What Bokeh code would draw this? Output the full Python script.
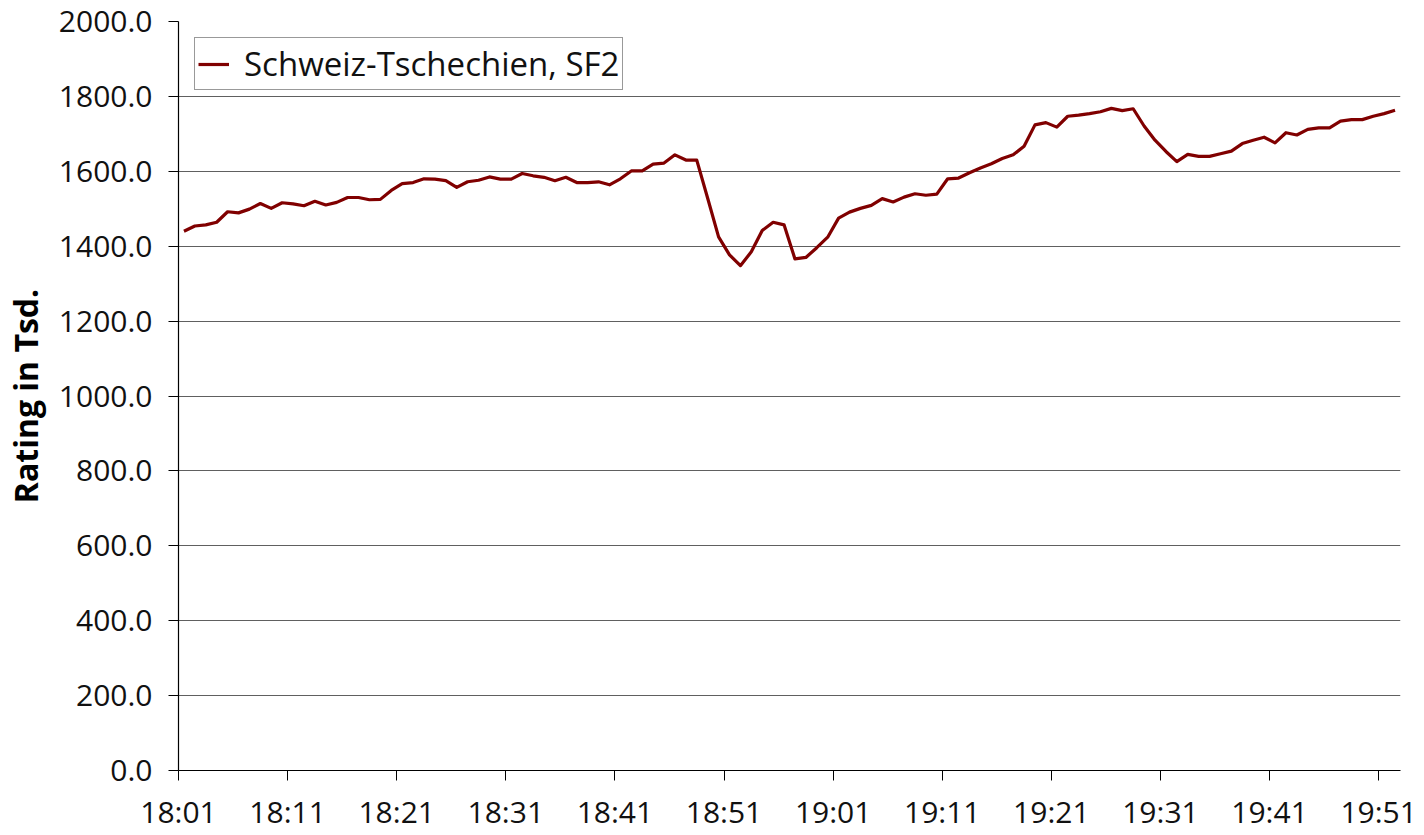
from bokeh.plotting import figure
from bokeh.models import Range1d, FixedTicker, NumeralTickFormatter, Legend, LegendItem, ColumnDataSource
from bokeh.embed import file_html
from bokeh.resources import INLINE

# --- data -------------------------------------------------------------
start_hour, start_min = 18, 1
ratings = [
    1440, 1454, 1457, 1464, 1492, 1489, 1499, 1514, 1501, 1516,
    1513, 1508, 1520, 1510, 1517, 1530, 1530, 1524, 1525, 1549,
    1567, 1570, 1580, 1579, 1575, 1557, 1572, 1576, 1585, 1579,
    1579, 1594, 1588, 1584, 1575, 1584, 1570, 1570, 1572, 1564,
    1580, 1601, 1601, 1619, 1622, 1644, 1630, 1630, 1528, 1425,
    1377, 1348, 1385, 1442, 1464, 1457, 1366, 1370, 1396, 1424,
    1475, 1491, 1501, 1509, 1527, 1518, 1531, 1540, 1536, 1539,
    1580, 1582, 1596, 1609, 1620, 1634, 1644, 1667, 1724, 1730,
    1718, 1747, 1750, 1754, 1759, 1768, 1762, 1767, 1721, 1683,
    1653, 1626, 1645, 1640, 1640, 1647, 1654, 1674, 1683, 1691,
    1676, 1703, 1697, 1712, 1716, 1716, 1734, 1738, 1738, 1747,
    1754, 1763,
]
times = []
for k in range(len(ratings)):
    m = start_hour * 60 + start_min + k
    times.append(f"{m // 60}:{m % 60:02d}")
label_every = 10
series_name = "Schweiz-Tschechien, SF2"
y_title = "Rating in Tsd."

# --- figure -----------------------------------------------------------
n = len(ratings)
xs = [k + 0.5 for k in range(n)]
src = ColumnDataSource(dict(x=xs, y=ratings, t=times))

p = figure(width=1418, height=834, output_backend="svg", toolbar_location=None,
           x_range=Range1d(0, n), y_range=Range1d(0, 2000),
           min_border_left=177, min_border_right=18, min_border_top=21, min_border_bottom=40)
p.outline_line_color = None
p.background_fill_color = "white"
p.border_fill_color = "white"

r = p.line("x", "y", source=src, line_color="#800000", line_width=3.2, line_join="round")

tick_pos = list(range(0, n, label_every))
p.xaxis.ticker = FixedTicker(ticks=tick_pos)
p.xaxis.major_label_overrides = {t: times[t] for t in tick_pos}
p.yaxis.ticker = FixedTicker(ticks=list(range(0, 2001, 200)))
p.yaxis.formatter = NumeralTickFormatter(format="0.0")

for ax in (p.xaxis[0], p.yaxis[0]):
    ax.axis_line_color = "black"
    ax.axis_line_width = 1.2
    ax.major_tick_line_color = "black"
    ax.major_tick_in = 0
    ax.major_tick_out = 10
    ax.minor_tick_line_color = None
    ax.major_label_text_font = "Open Sans"
    ax.major_label_text_font_size = "30px"
    ax.major_label_text_color = "#111111"

p.xaxis.major_label_standoff = 10
p.yaxis.major_label_standoff = 16
p.yaxis.axis_label = y_title
p.yaxis.axis_label_text_font = "Open Sans"
p.yaxis.axis_label_text_font_style = "bold"
p.yaxis.axis_label_text_font_size = "32px"
p.yaxis.axis_label_text_color = "black"
p.yaxis.axis_label_standoff = 9

p.xgrid.grid_line_color = None
p.ygrid.grid_line_color = "#606060"
p.ygrid.grid_line_width = 1.2

legend = Legend(items=[LegendItem(label=series_name, renderers=[r])], location="top_left")
legend.margin = 16
legend.padding = 3
legend.spacing = 0
legend.glyph_width = 31
legend.glyph_height = 30
legend.label_standoff = 15
legend.label_text_font = "Open Sans"
legend.label_text_font_size = "33px"
legend.label_text_color = "#111111"
legend.border_line_color = "#333333"
legend.border_line_width = 1
legend.background_fill_color = "white"
legend.background_fill_alpha = 1
p.add_layout(legend, "center")

open("out.html", "w").write(file_html(p, INLINE))
